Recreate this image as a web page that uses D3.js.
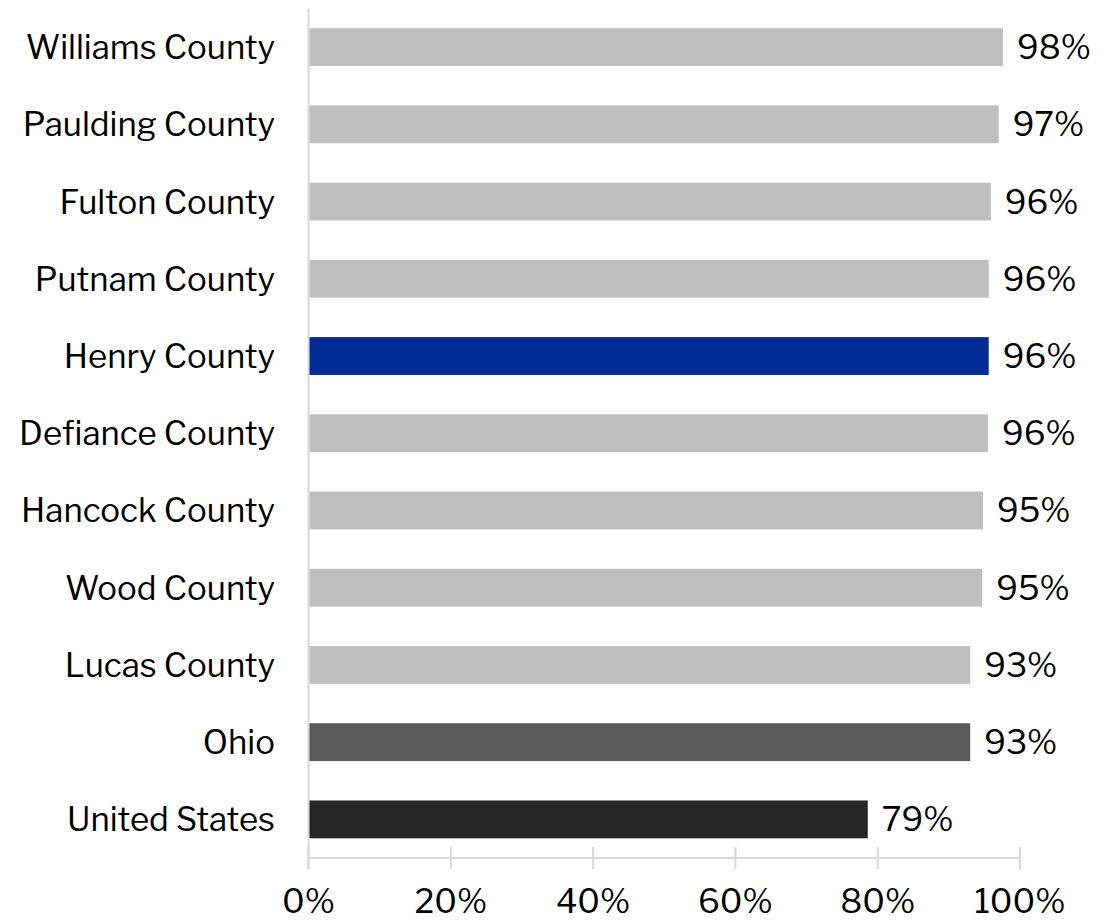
<!DOCTYPE html>
<html>
<head>
<meta charset="utf-8">
<script src="https://cdn.jsdelivr.net/npm/d3@7"></script>
<style>
  body { margin: 0; background: #fff; }
  text { font-family: "Libre Franklin", "Liberation Sans", Arial, sans-serif; fill: #000; }
</style>
</head>
<body>
<div id="chart"></div>
<script>
var areas = ["Williams County", "Paulding County", "Fulton County", "Putnam County", "Henry County",
  "Defiance County", "Hancock County", "Wood County", "Lucas County", "Ohio", "United States"];
var values = [97.6, 97.0, 95.9, 95.6, 95.6, 95.5, 94.8, 94.7, 93.0, 93.0, 78.6];
var barColors = ["#bfbfbf", "#bfbfbf", "#bfbfbf", "#bfbfbf", "#002c96",
  "#bfbfbf", "#bfbfbf", "#bfbfbf", "#bfbfbf", "#595959", "#262626"];
var ticks = [0, 20, 40, 60, 80, 100];

var width = 1111, height = 921;
var margin = { top: 8.5, left: 308.5, right: 91, bottom: 63 };

var svg = d3.select("#chart").append("svg")
    .attr("width", width)
    .attr("height", height);

var x = d3.scaleLinear()
    .domain([0, 100])
    .range([margin.left, width - margin.right]);

var y = d3.scaleBand()
    .domain(areas)
    .range([margin.top, height - margin.bottom])
    .padding(0);

var barH = y.bandwidth() * 0.49;
var axisY = height - margin.bottom;

// gridline axis
svg.append("line")
    .attr("x1", x(0)).attr("x2", x(100))
    .attr("y1", axisY).attr("y2", axisY)
    .attr("stroke", "#d9d9d9").attr("stroke-width", 2);
svg.append("line")
    .attr("x1", x(0)).attr("x2", x(0))
    .attr("y1", margin.top).attr("y2", axisY + 11)
    .attr("stroke", "#d9d9d9").attr("stroke-width", 2);
svg.selectAll(".tick")
    .data(ticks)
    .enter().append("line")
    .attr("x1", d => x(d)).attr("x2", d => x(d))
    .attr("y1", axisY - 11).attr("y2", axisY + 11)
    .attr("stroke", "#d9d9d9").attr("stroke-width", 2);
svg.selectAll(".tickLabel")
    .data(ticks)
    .enter().append("text")
    .attr("x", d => x(d))
    .attr("y", axisY + 55)
    .attr("text-anchor", "middle")
    .style("font-size", "33px")
    .text(d => d + "%");

// bars
svg.selectAll(".bar")
    .data(areas)
    .enter().append("rect")
    .attr("x", x(0) + 1)
    .attr("y", d => y(d) + (y.bandwidth() - barH) / 2)
    .attr("width", (d, i) => x(values[i]) - x(0) - 1)
    .attr("height", barH)
    .attr("fill", (d, i) => barColors[i]);

// category labels
svg.selectAll(".cat")
    .data(areas)
    .enter().append("text")
    .attr("x", 275)
    .attr("y", d => y(d) + y.bandwidth() / 2 + 12)
    .attr("text-anchor", "end")
    .style("font-size", "33px")
    .text(d => d);

// value labels
svg.selectAll(".val")
    .data(areas)
    .enter().append("text")
    .attr("x", (d, i) => x(values[i]) + 14)
    .attr("y", d => y(d) + y.bandwidth() / 2 + 12)
    .style("font-size", "33px")
    .text((d, i) => Math.round(values[i]) + "%");
</script>
</body>
</html>
